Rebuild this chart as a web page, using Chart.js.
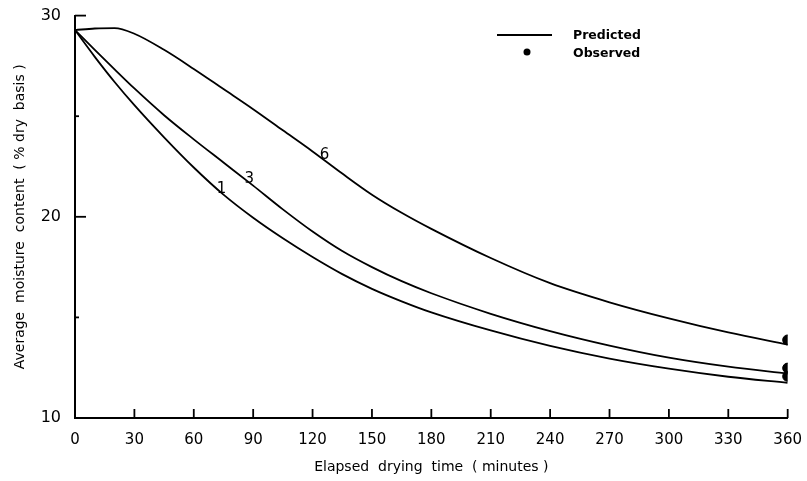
<!DOCTYPE html>
<html>
<head>
<meta charset="utf-8">
<script src="https://cdn.jsdelivr.net/npm/chart.js@4"></script>
<style>
  body { margin: 0; background: #fff; }
  #wrap { width: 807px; height: 481px; }
</style>
</head>
<body>
<div id="wrap"><canvas id="myChart" width="807" height="481"></canvas></div>
<script>
  // drying time (minutes) and predicted moisture content for each curve
  const times = [0, 10, 20, 30, 45, 60, 75, 90, 105, 120, 135, 150, 165, 180, 210, 240, 270, 300, 330, 360];
  const curve1 = [29.28, 27.95, 26.7, 25.55, 23.95, 22.45, 21.1, 19.95, 18.93, 18.0, 17.15, 16.42, 15.8, 15.25, 14.35, 13.58, 12.95, 12.45, 12.05, 11.75];
  const curve3 = [29.28, 28.3, 27.33, 26.38, 25.05, 23.85, 22.7, 21.55, 20.37, 19.27, 18.3, 17.5, 16.8, 16.2, 15.18, 14.32, 13.6, 13.0, 12.55, 12.2];
  const curve6 = [29.28, 29.36, 29.38, 29.1, 28.3, 27.35, 26.35, 25.35, 24.3, 23.25, 22.15, 21.1, 20.2, 19.4, 17.95, 16.7, 15.75, 14.95, 14.25, 13.65];

  // observed values at the end of drying
  const obsTimes = [360, 360, 360];
  const obsValues = [13.88, 12.48, 12.07];

  // curve labels: text, time, moisture
  const curveLabels = [['1', 74, 21.4], ['3', 88, 21.85], ['6', 126, 23.05]];

  const xTicks = [0, 30, 60, 90, 120, 150, 180, 210, 240, 270, 300, 330, 360];
  const yTicks = [10, 15, 20, 25, 30];

  const pts = (xs, ys) => xs.map((x, i) => ({ x: x, y: ys[i] }));
  const lineStyle = { borderColor: '#000', borderWidth: 1.8, pointRadius: 0, fill: false, cubicInterpolationMode: 'monotone' };
  const font = 'DejaVu Sans, Liberation Sans, sans-serif';

  // inward tick marks, legend and curve numbers
  const extras = {
    id: 'extras',
    afterDraw(chart) {
      const c = chart.ctx, xs = chart.scales.x, ys = chart.scales.y;
      c.save();
      c.strokeStyle = '#000';
      c.lineWidth = 1.8;
      xTicks.forEach(t => {
        if (t === 0) return;
        const px = xs.getPixelForValue(t);
        c.beginPath(); c.moveTo(px, ys.bottom); c.lineTo(px, ys.bottom - 9); c.stroke();
      });
      yTicks.forEach(v => {
        const py = ys.getPixelForValue(v);
        const len = v % 10 === 0 ? 11 : 4;
        c.beginPath(); c.moveTo(xs.left, py); c.lineTo(xs.left + len, py); c.stroke();
      });
      // legend
      c.beginPath(); c.moveTo(497, 35); c.lineTo(552, 35); c.stroke();
      c.beginPath(); c.arc(527, 52, 3.5, 0, Math.PI * 2); c.fillStyle = '#000'; c.fill();
      c.font = 'bold 12.5px ' + font;
      c.textBaseline = 'middle';
      c.textAlign = 'left';
      c.fillText('Predicted', 573, 36);
      c.fillText('Observed', 573, 54);
      // curve numbers
      c.font = '15px ' + font;
      c.textAlign = 'center';
      curveLabels.forEach(l => {
        c.fillText(l[0], xs.getPixelForValue(l[1]), ys.getPixelForValue(l[2]));
      });
      c.restore();
    }
  };

  const ctx = document.getElementById('myChart').getContext('2d');
  const myChart = new Chart(ctx, {
    type: 'scatter',
    data: {
      datasets: [
        Object.assign({ type: 'line', label: '1', data: pts(times, curve1) }, lineStyle),
        Object.assign({ type: 'line', label: '3', data: pts(times, curve3) }, lineStyle),
        Object.assign({ type: 'line', label: '6', data: pts(times, curve6) }, lineStyle),
        { label: 'Observed', data: pts(obsTimes, obsValues), pointRadius: 5, backgroundColor: '#000', borderColor: '#000' }
      ]
    },
    options: {
      responsive: false,
      animation: false,
      layout: { padding: { left: 0, top: 12, right: 17, bottom: 0 } },
      plugins: { legend: { display: false }, tooltip: { enabled: false } },
      scales: {
        x: {
          type: 'linear', min: 0, max: 360,
          afterFit: s => { s.height = 63; },
          afterBuildTicks: s => { s.ticks = xTicks.map(v => ({ value: v })); },
          grid: { display: false },
          border: { display: true, color: '#000', width: 2 },
          ticks: { color: '#000', font: { family: font, size: 15 }, padding: 5, maxRotation: 0 },
          title: { display: true, text: 'Elapsed  drying  time  ( minutes )', color: '#000', font: { family: font, size: 14 }, padding: { top: 12, bottom: 5 } }
        },
        y: {
          min: 10, max: 30,
          afterFit: s => { s.width = 75; },
          afterBuildTicks: s => { s.ticks = yTicks.map(v => ({ value: v })); },
          grid: { display: false },
          border: { display: true, color: '#000', width: 2 },
          ticks: { color: '#000', font: { family: font, size: 16 }, padding: 6, callback: v => (v % 10 === 0 ? v : '') },
          title: { display: true, text: 'Average  moisture  content  ( % dry  basis )', color: '#000', font: { family: font, size: 14 }, padding: { top: 12, bottom: 0 } }
        }
      }
    },
    plugins: [extras]
  });
</script>
</body>
</html>
